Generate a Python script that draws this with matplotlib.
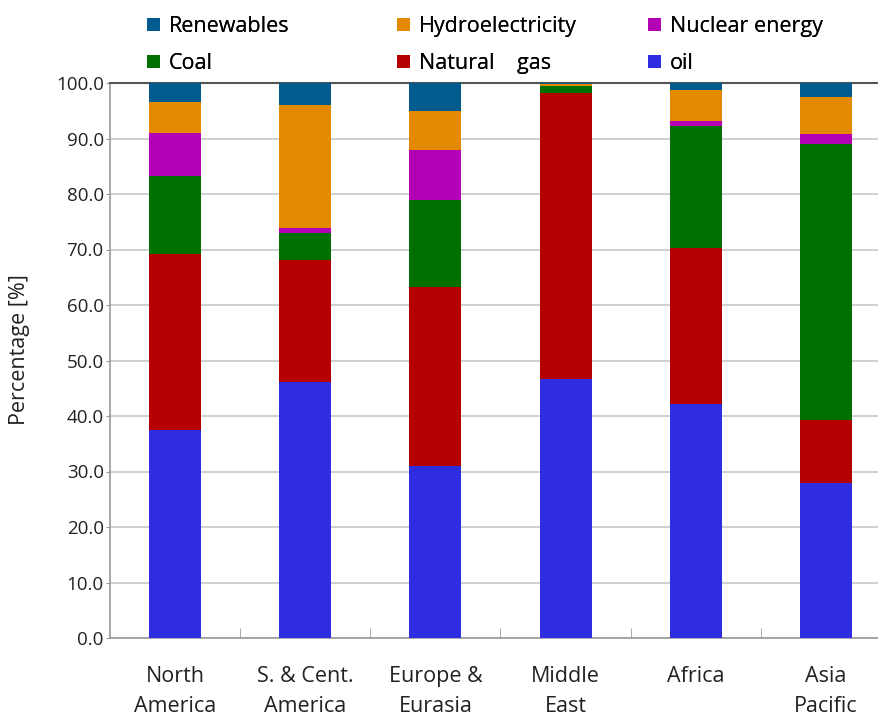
import matplotlib
matplotlib.use("Agg")
import matplotlib.pyplot as plt
from matplotlib.patches import Patch
import numpy as np

plt.rcParams['font.family'] = ['Open Sans', 'DejaVu Sans']

regions = ["North\nAmerica", "S. & Cent.\nAmerica", "Europe &\nEurasia",
           "Middle\nEast", "Africa", "Asia\nPacific"]

oil = [37.5, 46.2, 31.0, 46.6, 42.2, 28.0]
natural_gas = [31.7, 21.9, 32.2, 51.6, 28.0, 11.3]
coal = [14.0, 4.9, 15.8, 1.2, 22.0, 49.7]
nuclear = [7.8, 0.9, 8.9, 0.0, 0.9, 1.8]
hydro = [5.5, 22.2, 7.1, 0.5, 5.7, 6.6]
renewables = [3.5, 3.9, 5.0, 0.1, 1.2, 2.6]

series = [
    ("oil", oil, "#2e2ee0"),
    ("Natural    gas", natural_gas, "#b40000"),
    ("Coal", coal, "#007000"),
    ("Nuclear energy", nuclear, "#b400b4"),
    ("Hydroelectricity", hydro, "#e38a00"),
    ("Renewables", renewables, "#025b8e"),
]

fig = plt.figure(figsize=(8.79, 7.2), dpi=100)
ax = fig.add_axes([110 / 879, 82 / 720, 781 / 879, 555 / 720])

x = np.arange(len(regions))
bottom = np.zeros(len(regions))
for name, vals, color in series:
    ax.bar(x, vals, width=0.4, bottom=bottom, color=color, label=name, zorder=3)
    bottom += np.array(vals)

ax.set_xlim(-0.5, len(regions) - 0.5)
ax.set_ylim(0, 100)
ax.set_yticks(np.arange(0, 101, 10))
ax.set_yticklabels([f"{v:.1f}" for v in np.arange(0, 101, 10)])
ax.yaxis.grid(True, color="#c8c8c8", linewidth=1.2, zorder=0)
ax.set_axisbelow(True)

ax.set_xticks(x)
ax.set_xticklabels(regions)
ax.tick_params(axis="x", length=0, pad=20, labelsize=15.5, colors="#222222")
for lbl in ax.get_xticklabels():
    lbl.set_linespacing(1.55)
ax.set_xticks(np.arange(0.5, len(regions) - 0.5, 1), minor=True)
ax.tick_params(axis="x", which="minor", direction="in", length=7, color="#999999")
ax.tick_params(axis="y", direction="out", length=3, color="#999999",
               labelsize=13.5, labelcolor="#222222", pad=1.5)

for side in ("left", "bottom"):
    ax.spines[side].set_color("#9a9a9a")
    ax.spines[side].set_linewidth(1.2)
ax.spines["top"].set_color("#555555")
ax.spines["top"].set_linewidth(1.5)
ax.spines["right"].set_visible(False)

ax.set_ylabel("Percentage [%]", fontsize=15.5, color="#222222")
ax.yaxis.set_label_coords(-0.102, 0.52)

colors = {name: color for name, _, color in series}
legend_columns = [
    (["Renewables", "Coal"], 147),
    (["Hydroelectricity", "Natural    gas"], 397),
    (["Nuclear energy", "oil"], 648),
]
for names, xpix in legend_columns:
    handles = [Patch(facecolor=colors[n], edgecolor="none") for n in names]
    leg = fig.legend(handles, names, ncol=1, loc="upper left",
                     bbox_to_anchor=(xpix / 879, 1 - 16 / 720), frameon=False,
                     fontsize=15.5, handlelength=0.6, handleheight=0.6,
                     handletextpad=0.4, labelspacing=0.75,
                     borderpad=0, borderaxespad=0)
    fig.add_artist(leg)

fig.savefig("out.png", dpi=100)
